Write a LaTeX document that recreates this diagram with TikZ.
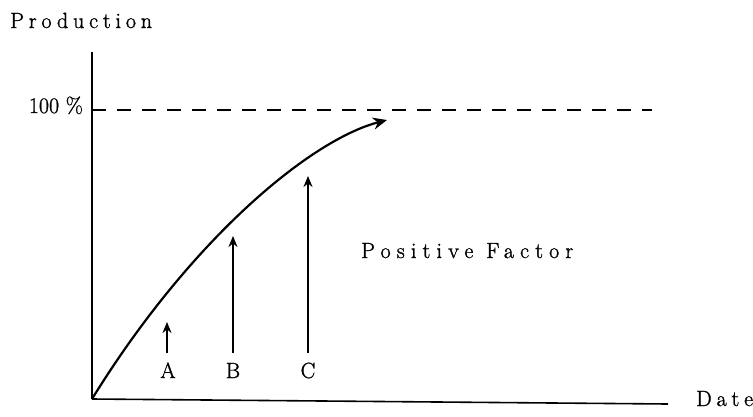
\documentclass[tikz,border=0pt]{standalone}
\usepackage{fontspec}
\usetikzlibrary{arrows.meta}
\newfontfamily\spacedfont[LetterSpace=22,FakeBold=1.2]{Latin Modern Roman}
\newfontfamily\widefont[LetterSpace=28,FakeBold=1.2]{Latin Modern Roman}
\newfontfamily\heavyfont[FakeBold=1.2]{Latin Modern Roman}
\tikzset{
  lbl/.style={font=\spacedfont\fontsize{22}{26}\selectfont, inner sep=0pt},
  widelbl/.style={font=\widefont\fontsize{22}{26}\selectfont, inner sep=0pt},
  plainlbl/.style={font=\heavyfont\fontsize{22}{26}\selectfont, inner sep=0pt},
  axisline/.style={line width=1.6pt},
  factor/.style={line width=1.7pt, -{Stealth[length=11pt,width=9pt]}},
}
\begin{document}
\begin{tikzpicture}[x=1pt,y=-1pt]
\useasboundingbox (0,0) rectangle (753,416);
\coordinate (O) at (92,399);
\coordinate (ytop) at (92,52);
\coordinate (xend) at (668,404);
\coordinate (h0) at (92,110);
\coordinate (h1) at (652,110);
\draw[axisline] (O) -- (ytop);
\draw[axisline] (O) -- (xend);
\draw[line width=1.3pt, dash pattern=on 14pt off 11pt] (h0) -- (h1);
\node[lbl, anchor=base west] (prod) at (10,28) {Production};
\node[plainlbl, anchor=base east] (pct) at (83,113) {100 \%};
\node[lbl, anchor=base west] (date) at (696,406) {Date};
\node[widelbl, anchor=base west] (pos) at (361,258) {Positive Factor};
\coordinate (ctip) at (387,120);
\draw[line width=2.2pt, -{Stealth[length=14pt,width=12pt]}]
  (O) .. controls (190,240) and (310,140) .. (ctip);
\node[plainlbl, anchor=base] (A) at (168,378) {A};
\node[plainlbl, anchor=base] (B) at (233,378) {B};
\node[plainlbl, anchor=base] (C) at (308,378) {C};
\coordinate (Abot) at (167,353);
\coordinate (Bbot) at (233,353);
\coordinate (Cbot) at (308,353);
\coordinate (Atop) at (167,322);
\coordinate (Btop) at (233,236);
\coordinate (Ctop) at (308,176);
\draw[factor] (Abot) -- (Atop);
\draw[factor] (Bbot) -- (Btop);
\draw[factor] (Cbot) -- (Ctop);
\end{tikzpicture}
\end{document}
